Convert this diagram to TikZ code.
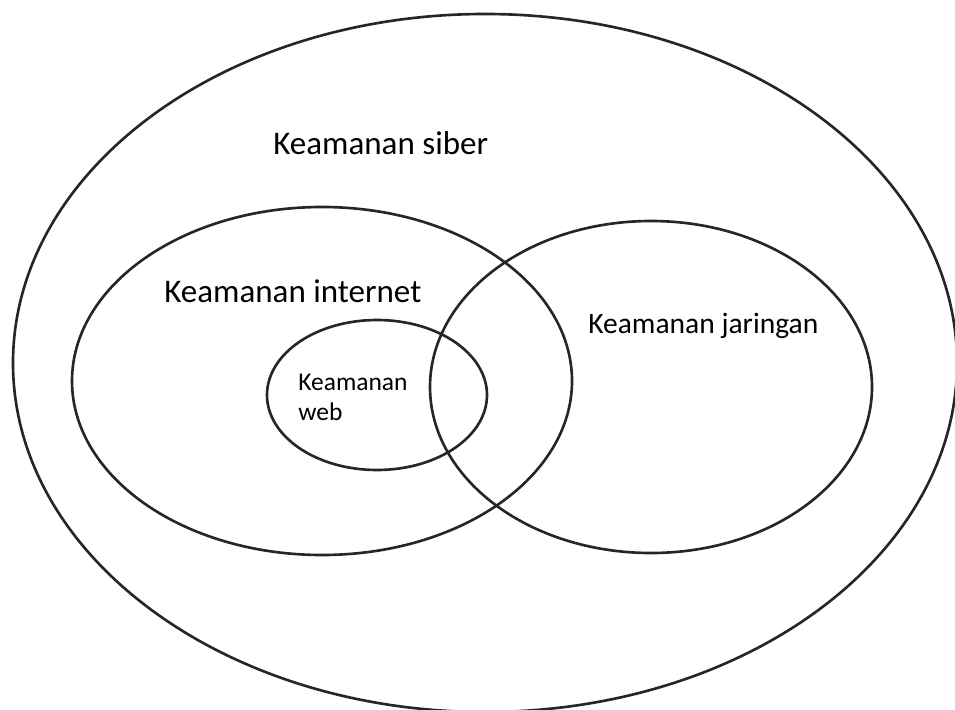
\documentclass[tikz,border=0pt]{standalone}
\usepackage{fontspec}
\setmainfont{Carlito}
\usetikzlibrary{positioning}

\begin{document}
\begin{tikzpicture}[
						x=0.02cm,
						y=-0.02cm,
						line width=1.5pt,
						draw=black!85,
						setbox/.style={draw},
						biglabel/.style={font=\fontsize{18.8}{22}\selectfont, inner sep=0pt, anchor=base west},
						midlabel/.style={font=\fontsize{16.8}{20}\selectfont, inner sep=0pt, anchor=base west},
						smalllabel/.style={font=\fontsize{14.5}{17}\selectfont, inner sep=0pt, anchor=north west, align=left}
						]
						
						\useasboundingbox (0,0) rectangle (955,709);
						\clip (0,0) rectangle (955,709);
						
						% centres of the sets
						\coordinate (siber) at (485,363);
						\coordinate (internet) at (322,381);
						\coordinate (jaringan) at (651,387);
						\coordinate (web) at (377,395);
						
						% sets
						\draw[setbox] (siber) ellipse[x radius=472, y radius=349];
						\draw[setbox] (internet) ellipse[x radius=250, y radius=174];
						\draw[setbox] (jaringan) ellipse[x radius=221, y radius=166];
						\draw[setbox] (web) ellipse[x radius=110, y radius=75];
						
						% labels
						\node[biglabel] (siberlabel) at (272,155) {Keamanan siber};
						\node[biglabel] (internetlabel) at (163,302) {Keamanan internet};
						\node[midlabel] (jaringanlabel) at (587,333) {Keamanan jaringan};
						\node[smalllabel] (weblabel) at (297,373) {Keamanan\\web};
						
					\end{tikzpicture}
\end{document}
